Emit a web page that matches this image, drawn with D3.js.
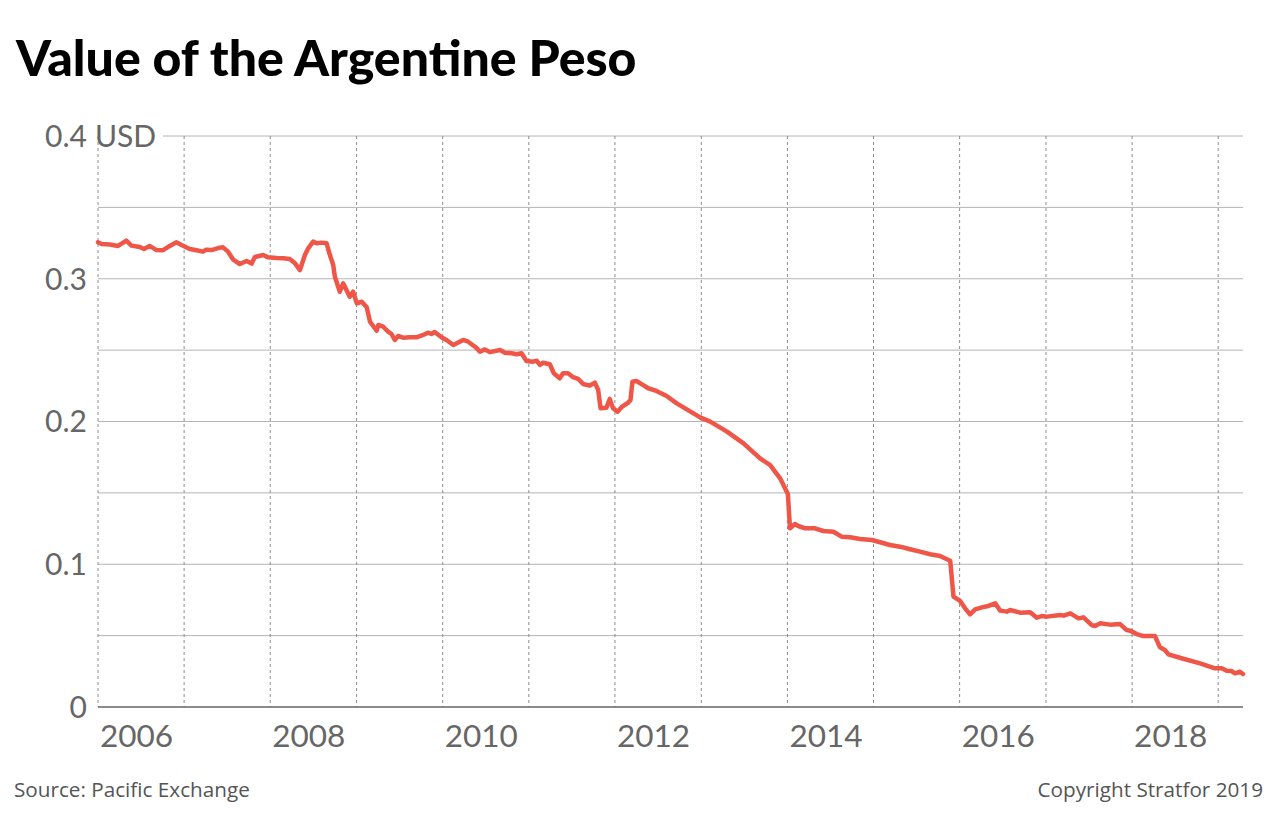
<!DOCTYPE html>
<html>
<head>
<meta charset="utf-8">
<script src="https://cdn.jsdelivr.net/npm/d3@7"></script>
<style>
  body { margin: 0; background: #fff; }
  svg { display: block; font-family: Lato, "Open Sans", sans-serif; }
  .title { font-weight: 900; font-size: 50px; fill: #000; }
  .tick-label { font-size: 30px; fill: #666; }
  .x-label { font-size: 31.5px; fill: #666; }
  .footer { font-family: "Open Sans", sans-serif; font-size: 20.7px; fill: #555; }
</style>
</head>
<body>
<div id="line_plot"></div>
<script>
// peso value in USD
const dates = [
  "2006-01-01","2006-01-16","2006-02-20","2006-03-27","2006-05-01","2006-05-23","2006-06-27","2006-07-15",
  "2006-08-08","2006-09-06","2006-10-04","2006-11-01","2006-11-30","2006-12-21","2007-01-25","2007-02-22",
  "2007-03-22","2007-04-05","2007-04-27","2007-06-01","2007-06-15","2007-07-06","2007-07-27","2007-08-25",
  "2007-09-23","2007-10-14","2007-10-28","2007-12-02","2007-12-23","2008-01-28","2008-02-25","2008-03-24",
  "2008-04-15","2008-05-06","2008-05-27","2008-06-10","2008-07-01","2008-07-16","2008-08-06","2008-08-27",
  "2008-09-10","2008-09-24","2008-10-01","2008-10-22","2008-11-05","2008-12-03","2008-12-17","2009-01-02",
  "2009-01-23","2009-02-13","2009-02-27","2009-03-27","2009-04-03","2009-04-24","2009-05-15","2009-05-29",
  "2009-06-12","2009-06-26","2009-07-17","2009-08-15","2009-09-12","2009-10-10","2009-10-31","2009-11-14",
  "2009-11-28","2009-12-27","2010-01-17","2010-02-15","2010-03-29","2010-04-19","2010-05-18","2010-06-08",
  "2010-06-29","2010-07-20","2010-09-01","2010-09-22","2010-10-20","2010-11-10","2010-12-01","2010-12-22",
  "2011-01-19","2011-02-03","2011-02-17","2011-03-03","2011-03-31","2011-04-17","2011-05-12","2011-05-26",
  "2011-06-16","2011-07-08","2011-07-29","2011-08-19","2011-09-16","2011-10-08","2011-10-22","2011-11-01",
  "2011-11-26","2011-12-10","2011-12-24","2012-01-12","2012-01-29","2012-02-26","2012-03-07","2012-03-15",
  "2012-04-01","2012-04-30","2012-05-21","2012-06-25","2012-08-07","2012-09-19","2012-11-29","2012-12-27",
  "2013-02-08","2013-04-20","2013-06-29","2013-09-07","2013-10-20","2013-12-01","2014-01-03","2014-01-12",
  "2014-02-02","2014-02-16","2014-03-17","2014-04-28","2014-06-02","2014-07-15","2014-08-19","2014-09-24",
  "2014-11-05","2014-12-25","2015-01-29","2015-03-12","2015-04-23","2015-06-05","2015-07-17","2015-08-29",
  "2015-10-10","2015-11-22","2015-12-06","2016-01-03","2016-01-24","2016-02-14","2016-03-07","2016-04-04",
  "2016-05-02","2016-05-31","2016-06-21","2016-07-19","2016-08-02","2016-09-13","2016-10-26","2016-11-23",
  "2016-12-14","2017-01-05","2017-03-03","2017-03-17","2017-04-14","2017-05-19","2017-06-09","2017-07-14",
  "2017-07-28","2017-08-18","2017-09-30","2017-11-11","2017-12-09","2017-12-23","2018-01-21","2018-02-18",
  "2018-04-08","2018-04-29","2018-05-20","2018-06-04","2018-08-06","2018-10-16","2018-12-18","2019-01-16",
  "2019-02-06","2019-02-27","2019-03-13","2019-04-03","2019-04-16"
];

const values = [
  0.3255,0.3243,0.3240,0.3230,0.3267,0.3232,0.3222,0.3208,
  0.3230,0.3201,0.3200,0.3230,0.3255,0.3236,0.3208,0.3200,
  0.3190,0.3204,0.3201,0.3218,0.3220,0.3190,0.3136,0.3103,
  0.3124,0.3106,0.3152,0.3166,0.3150,0.3145,0.3143,0.3138,
  0.3108,0.3061,0.3166,0.3213,0.3260,0.3248,0.3253,0.3248,
  0.3166,0.3096,0.3014,0.2909,0.2968,0.2874,0.2909,0.2828,
  0.2839,0.2800,0.2699,0.2636,0.2676,0.2664,0.2629,0.2613,
  0.2571,0.2599,0.2587,0.2590,0.2590,0.2606,0.2622,0.2613,
  0.2627,0.2590,0.2571,0.2536,0.2571,0.2559,0.2524,0.2489,
  0.2505,0.2486,0.2501,0.2482,0.2478,0.2471,0.2478,0.2424,
  0.2419,0.2426,0.2396,0.2412,0.2401,0.2338,0.2303,0.2338,
  0.2338,0.2310,0.2298,0.2263,0.2251,0.2272,0.2221,0.2093,
  0.2097,0.2158,0.2093,0.2069,0.2100,0.2132,0.2151,0.2279,
  0.2284,0.2255,0.2233,0.2214,0.2179,0.2127,0.2057,0.2029,
  0.1999,0.1929,0.1847,0.1742,0.1695,0.1602,0.1492,0.1252,
  0.1282,0.1268,0.1252,0.1252,0.1233,0.1228,0.1193,0.1189,
  0.1177,0.1170,0.1154,0.1135,0.1123,0.1105,0.1088,0.1070,
  0.1058,0.1025,0.0773,0.0743,0.0691,0.0649,0.0684,0.0698,
  0.0708,0.0726,0.0675,0.0668,0.0680,0.0661,0.0663,0.0626,
  0.0637,0.0633,0.0644,0.0640,0.0656,0.0621,0.0628,0.0574,
  0.0567,0.0586,0.0577,0.0581,0.0539,0.0535,0.0511,0.0497,
  0.0497,0.0418,0.0399,0.0369,0.0338,0.0306,0.0271,0.0271,
  0.0254,0.0252,0.0236,0.0247,0.0231
];

const yGrid = [0, 0.05, 0.1, 0.15, 0.2, 0.25, 0.3, 0.35, 0.4];
const yLabels = [
  { v: 0, text: "0" },
  { v: 0.1, text: "0.1" },
  { v: 0.2, text: "0.2" },
  { v: 0.3, text: "0.3" },
  { v: 0.4, text: "0.4" }
];
const xLabelYears = [2006, 2008, 2010, 2012, 2014, 2016, 2018];

let height = 824,
  width = 1280,
  margin = ({ top: 136, right: 37, bottom: 117, left: 98 });

const svg = d3.select("#line_plot")
  .append("svg")
  .attr("width", width)
  .attr("height", height)
  .attr("viewBox", [0, 0, width, height]);

let timeParse = d3.timeParse("%Y-%m-%d");
let data = dates.map((d, i) => ({ date: timeParse(d), value: values[i] }));

let x = d3.scaleTime()
  .domain([timeParse("2006-01-01"), timeParse("2019-04-16")])
  .range([margin.left, width - margin.right]);

let y = d3.scaleLinear()
  .domain([0, 0.4])
  .range([height - margin.bottom, margin.top]);

// title
svg.append("text")
  .attr("class", "title")
  .attr("x", 16)
  .attr("y", 76)
  .text("Value of the Argentine Peso");

// horizontal grid, top one starts after the "USD" label
for (let v of yGrid) {
  if (v === 0) continue;
  svg.append("line")
    .attr("x1", v === 0.4 ? 163 : margin.left)
    .attr("x2", width - margin.right)
    .attr("y1", y(v))
    .attr("y2", y(v))
    .attr("stroke", "#b4b4b4")
    .attr("stroke-width", 1);
}

// vertical year lines (dashed)
let years = x.ticks(d3.timeYear.every(1));
svg.append("g")
  .selectAll("line")
  .data(years)
  .join("line")
  .attr("x1", d => x(d))
  .attr("x2", d => x(d))
  .attr("y1", margin.top)
  .attr("y2", height - margin.bottom)
  .attr("stroke", "#8c8c8c")
  .attr("stroke-dasharray", "3,3");

// baseline
svg.append("line")
  .attr("x1", margin.left)
  .attr("x2", width - margin.right)
  .attr("y1", y(0))
  .attr("y2", y(0))
  .attr("stroke", "#666")
  .attr("stroke-width", 1.5);

// y labels
for (let l of yLabels) {
  svg.append("text")
    .attr("class", "tick-label")
    .attr("x", 87)
    .attr("y", y(l.v))
    .attr("dy", "0.36em")
    .attr("text-anchor", "end")
    .text(l.text);
}
svg.append("text")
  .attr("class", "tick-label")
  .attr("x", 95)
  .attr("y", y(0.4))
  .attr("dy", "0.36em")
  .text("USD");

// x labels sit just right of each year line
svg.append("g")
  .selectAll("text")
  .data(xLabelYears)
  .join("text")
  .attr("class", "x-label")
  .attr("x", d => x(new Date(d, 0, 1)) + 2)
  .attr("y", 747)
  .text(d => d);

let line = d3.line()
  .x(d => x(d.date))
  .y(d => y(d.value));

svg.append("path")
  .datum(data)
  .attr("fill", "none")
  .attr("stroke", "#ef5648")
  .attr("stroke-width", 4.5)
  .attr("stroke-linejoin", "round")
  .attr("stroke-linecap", "round")
  .attr("d", line);

// footer
svg.append("text")
  .attr("class", "footer")
  .attr("x", 14)
  .attr("y", 797)
  .text("Source: Pacific Exchange");

svg.append("text")
  .attr("class", "footer")
  .attr("x", 1263)
  .attr("y", 797)
  .attr("text-anchor", "end")
  .text("Copyright Stratfor 2019");
</script>
</body>
</html>
